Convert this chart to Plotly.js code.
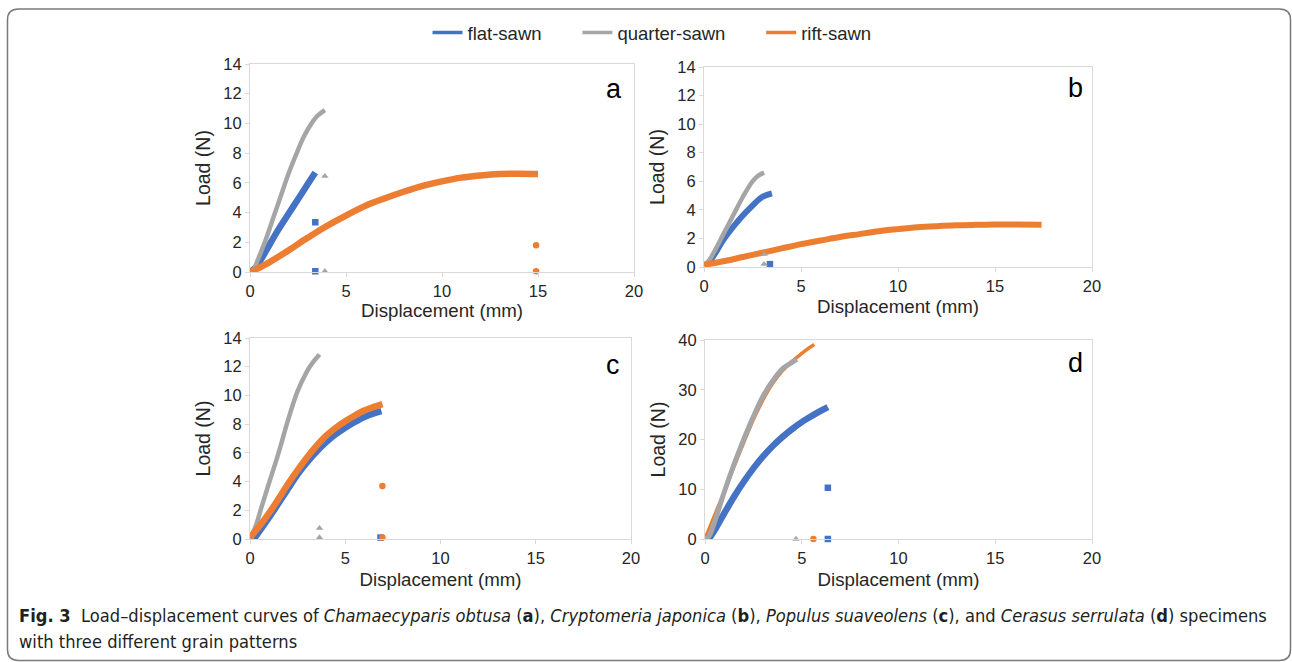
<!DOCTYPE html>
<html>
<head>
<meta charset="utf-8">
<script src="https://cdn.plot.ly/plotly-3.0.1.min.js"></script>
<style>
html,body{margin:0;padding:0;background:#fff;}
#chart{width:1292px;height:662px;}
</style>
</head>
<body>
<div id="chart"></div>
<script>
// ---------- DATA ----------
const seriesNames = ["flat-sawn", "quarter-sawn", "rift-sawn"];
const panelLabels = ["a", "b", "c", "d"];
const xTickVals = [0, 5, 10, 15, 20];

// Panel a (Chamaecyparis obtusa)
const aFlatX = [0, 0.3, 0.6, 1.0, 1.5, 2.0, 2.5, 3.0, 3.4];
const aFlatY = [0, 0.3, 0.9, 1.8, 2.9, 3.9, 4.9, 5.9, 6.7];
const aQuarterX = [0, 0.2, 0.4, 0.8, 1.2, 1.6, 2.0, 2.4, 2.8, 3.2, 3.5, 3.9];
const aQuarterY = [0, 0.2, 0.8, 2.1, 3.6, 5.1, 6.6, 7.9, 9.1, 10.0, 10.5, 10.9];
const aRiftX = [0, 0.5, 1, 2, 3, 4, 5, 6, 7, 8, 9, 10, 11, 12, 13, 14, 15];
const aRiftY = [0, 0.3, 0.65, 1.45, 2.3, 3.1, 3.8, 4.45, 4.95, 5.4, 5.8, 6.1, 6.35, 6.5, 6.6, 6.62, 6.6];
const aFlatEndX = [3.4, 3.4];     const aFlatEndY = [3.35, 0.05];
const aQuarterEndX = [3.9, 3.9];  const aQuarterEndY = [6.45, 0.05];
const aRiftEndX = [14.9, 14.9];   const aRiftEndY = [1.8, 0.05];

// Panel b (Cryptomeria japonica)
const bFlatX = [0.2, 0.5, 1.0, 1.5, 2.0, 2.5, 3.0, 3.5];
const bFlatY = [0.2, 0.8, 1.9, 2.8, 3.6, 4.3, 4.9, 5.15];
const bQuarterX = [0, 0.2, 0.5, 1.0, 1.5, 2.0, 2.5, 2.8, 3.1];
const bQuarterY = [0.2, 0.35, 1.0, 2.3, 3.6, 4.9, 6.0, 6.4, 6.6];
const bRiftX = [0, 1, 2, 3, 4, 5, 6, 7, 8, 9, 10, 11, 12, 13, 14, 15, 16, 17.4];
const bRiftY = [0.15, 0.4, 0.7, 1.0, 1.3, 1.6, 1.85, 2.1, 2.3, 2.5, 2.65, 2.78, 2.86, 2.92, 2.95, 2.97, 2.97, 2.95];
const bFlatEndX = [3.4];          const bFlatEndY = [0.2];
const bQuarterEndX = [3.1, 3.1];  const bQuarterEndY = [0.9, 0.2];
const bRiftEndX = [];             const bRiftEndY = [];

// Panel c (Populus suaveolens)
const cFlatX = [0.2, 0.5, 1, 1.5, 2, 2.5, 3, 3.5, 4, 4.5, 5, 5.5, 6, 6.5, 6.9];
const cFlatY = [0, 0.55, 1.5, 2.5, 3.5, 4.5, 5.35, 6.1, 6.75, 7.3, 7.75, 8.15, 8.5, 8.75, 8.9];
const cQuarterX = [0, 0.3, 0.6, 1.0, 1.5, 2.0, 2.5, 3.0, 3.3, 3.65];
const cQuarterY = [0, 0.9, 2.2, 3.9, 6.0, 8.3, 10.3, 11.7, 12.3, 12.85];
const cRiftX = [0, 0.5, 1, 1.5, 2, 2.5, 3, 3.5, 4, 4.5, 5, 5.5, 6, 6.5, 6.95];
const cRiftY = [0.1, 0.9, 1.8, 2.8, 3.85, 4.8, 5.7, 6.5, 7.2, 7.75, 8.2, 8.6, 8.95, 9.2, 9.4];
const cFlatEndX = [6.85];         const cFlatEndY = [0.1];
const cQuarterEndX = [3.65, 3.65];const cQuarterEndY = [0.75, 0.1];
const cRiftEndX = [6.95, 6.95];   const cRiftEndY = [3.7, 0.1];

// Panel d (Cerasus serrulata)
const dFlatX = [0.2, 0.5, 1, 1.5, 2, 2.5, 3, 3.5, 4, 4.5, 5, 5.5, 6, 6.35];
const dFlatY = [0, 1.8, 5.2, 8.5, 11.5, 14.2, 16.6, 18.7, 20.5, 22.1, 23.5, 24.7, 25.8, 26.5];
const dQuarterX = [0, 0.2, 0.5, 1, 1.5, 2, 2.5, 3, 3.5, 4, 4.5, 4.75];
const dQuarterY = [0, 0.5, 3.5, 9.5, 15, 20, 24.6, 28.7, 31.8, 34.2, 35.5, 36.1];
const dRiftX = [0, 0.5, 1, 1.5, 2, 2.5, 3, 3.5, 4, 4.5, 5, 5.3, 5.65];
const dRiftY = [0, 4.8, 9.5, 14.6, 19.4, 24, 28, 31.3, 33.8, 35.7, 37.3, 38.2, 39.1];
const dFlatEndX = [6.35, 6.35];   const dFlatEndY = [10.3, 0];
const dQuarterEndX = [4.7];       const dQuarterEndY = [0];
const dRiftEndX = [5.6];          const dRiftEndY = [0];

const captionLine1 = "<b>Fig. 3</b>  Load–displacement curves of <i>Chamaecyparis obtusa</i> (<b>a</b>), <i>Cryptomeria japonica</i> (<b>b</b>), <i>Populus suaveolens</i> (<b>c</b>), and <i>Cerasus serrulata</i> (<b>d</b>) specimens";
const captionLine2 = "with three different grain patterns";

// ---------- STYLE ----------
const colors = ["#4472C4", "#A5A5A5", "#ED7D31"];
const symbols = ["square", "triangle-up", "circle"];
const W = 1292, H = 662;
const txt = "#262626";
const pad = "\u00A0\u00A0\u00A0\u00A0\u00A0\u00A0";

const panels = [
  {xa:"x",  ya:"y",  curves:[[aFlatX,aFlatY],[aQuarterX,aQuarterY],[aRiftX,aRiftY]],
   ends:[[aFlatEndX,aFlatEndY],[aQuarterEndX,aQuarterEndY],[aRiftEndX,aRiftEndY]], widths:[6.5,4.5,6.5], order:[0,1,2],
   px:[250,634], py:[64,272], ymax:14, dy:2, lab:[614,89], xs:3},
  {xa:"x2", ya:"y2", curves:[[bFlatX,bFlatY],[bQuarterX,bQuarterY],[bRiftX,bRiftY]],
   ends:[[bFlatEndX,bFlatEndY],[bQuarterEndX,bQuarterEndY],[bRiftEndX,bRiftEndY]], widths:[6,4.5,6], order:[0,1,2],
   px:[704,1092], py:[67,267], ymax:14, dy:2, lab:[1075,88], xs:6},
  {xa:"x3", ya:"y3", curves:[[cFlatX,cFlatY],[cQuarterX,cQuarterY],[cRiftX,cRiftY]],
   ends:[[cFlatEndX,cFlatEndY],[cQuarterEndX,cQuarterEndY],[cRiftEndX,cRiftEndY]], widths:[6.5,4.5,6.5], order:[0,1,2],
   px:[250,631], py:[338,539], ymax:14, dy:2, lab:[613,365], xs:7},
  {xa:"x4", ya:"y4", curves:[[dFlatX,dFlatY],[dQuarterX,dQuarterY],[dRiftX,dRiftY]],
   ends:[[dFlatEndX,dFlatEndY],[dQuarterEndX,dQuarterEndY],[dRiftEndX,dRiftEndY]], widths:[6.5,5,3.5], order:[0,2,1],
   px:[705,1092], py:[340,539], ymax:40, dy:10, lab:[1075,363], xs:7}
];

const traces = [];
const layout = {
  width: W, height: H,
  margin: {l:0, r:0, t:0, b:0},
  paper_bgcolor: "#fff", plot_bgcolor: "rgba(0,0,0,0)",
  font: {family: "Liberation Sans, Arial, sans-serif", color: txt},
  showlegend: true,
  legend: {orientation: "h", x: 652/W, xanchor: "center", y: 1 - 33/H, yanchor: "middle",
           font: {size: 18.5, color: txt}, tracegroupgap: 0, bgcolor: "rgba(0,0,0,0)"},
  annotations: [], shapes: []
};

// legend entries
seriesNames.forEach((n, i) => {
  traces.push({x:[null], y:[null], type:"scatter", mode:"lines", name: i < 2 ? n + pad : n,
               line:{color:colors[i], width:3.5}, showlegend:true, hoverinfo:"skip"});
});

panels.forEach((p, k) => {
  const idx = k + 1;
  const sfx = idx === 1 ? "" : String(idx);
  p.order.forEach(s => {
    traces.push({x:p.curves[s][0], y:p.curves[s][1], xaxis:p.xa, yaxis:p.ya, type:"scatter",
      mode:"lines", line:{color:colors[s], width:p.widths[s], shape:"spline", smoothing:1},
      showlegend:false, name:seriesNames[s], cliponaxis:false});
  });
  [0,1,2].forEach(s => {
    if (p.ends[s][0].length) traces.push({x:p.ends[s][0], y:p.ends[s][1], xaxis:p.xa, yaxis:p.ya,
      type:"scatter", mode:"markers", marker:{color:colors[s], symbol:symbols[s], size:6.5},
      showlegend:false, name:seriesNames[s], cliponaxis:false});
  });
  const xd = [p.px[0]/W, p.px[1]/W];
  const yd = [1 - p.py[1]/H, 1 - p.py[0]/H];
  const common = {showgrid:false, zeroline:false, showline:true, mirror:true, linecolor:"#d9d9d9", linewidth:1,
                  ticks:"outside", ticklen:4, tickcolor:"#d9d9d9", tickwidth:1,
                  tickfont:{size:16.5, color:txt}, fixedrange:true};
  layout["xaxis"+sfx] = Object.assign({}, common, {domain:xd, anchor:"y"+sfx, range:[0,20],
      tickvals:xTickVals, title:{text:"Displacement (mm)", font:{size:18.7, color:txt}, standoff:p.xs}});
  layout["yaxis"+sfx] = Object.assign({}, common, {domain:yd, anchor:"x"+sfx, range:[0,p.ymax],
      dtick:p.dy, tick0:0, title:{text:"Load (N)", font:{size:19.5, color:txt}, standoff:7}});
  // inner half of crossing ticks
  layout["xaxis"+(idx+4)] = {overlaying:"x"+sfx, anchor:"y"+sfx, side:"bottom", range:[0,20], tickvals:xTickVals,
      ticks:"inside", ticklen:4, tickcolor:"#d9d9d9", showticklabels:false, showline:false, showgrid:false, zeroline:false, fixedrange:true};
  layout["yaxis"+(idx+4)] = {overlaying:"y"+sfx, anchor:"x"+sfx, side:"left", range:[0,p.ymax], dtick:p.dy, tick0:0,
      ticks:"inside", ticklen:4, tickcolor:"#d9d9d9", showticklabels:false, showline:false, showgrid:false, zeroline:false, fixedrange:true};
  layout.annotations.push({text:panelLabels[k], xref:"paper", yref:"paper",
      x:p.lab[0]/W, y:1 - p.lab[1]/H, xanchor:"center", yanchor:"middle", showarrow:false,
      font:{size:27, color:"#000"}});
});

// caption (two lines)
const capFont = {family:"Liberation Sans Narrow, DejaVu Sans Condensed, sans-serif", size:18.15, color:"#231f20"};
layout.annotations.push({text:captionLine1, xref:"paper", yref:"paper", x:17/W, y:1 - 615/H,
  xanchor:"left", yanchor:"middle", align:"left", showarrow:false, font:capFont});
layout.annotations.push({text:captionLine2, xref:"paper", yref:"paper", x:17/W, y:1 - 641/H,
  xanchor:"left", yanchor:"middle", align:"left", showarrow:false, font:capFont});

// rounded frame
(function(){
  const x0 = 7.5, x1 = 1290.5, y0 = 9, y1 = 660.5, r = 11;
  const X = v => (v / W).toFixed(5), Y = v => (1 - v / H).toFixed(5);
  const path = `M ${X(x0+r)} ${Y(y0)} L ${X(x1-r)} ${Y(y0)} Q ${X(x1)} ${Y(y0)} ${X(x1)} ${Y(y0+r)} ` +
               `L ${X(x1)} ${Y(y1-r)} Q ${X(x1)} ${Y(y1)} ${X(x1-r)} ${Y(y1)} ` +
               `L ${X(x0+r)} ${Y(y1)} Q ${X(x0)} ${Y(y1)} ${X(x0)} ${Y(y1-r)} ` +
               `L ${X(x0)} ${Y(y0+r)} Q ${X(x0)} ${Y(y0)} ${X(x0+r)} ${Y(y0)} Z`;
  layout.shapes.push({type:"path", xref:"paper", yref:"paper", path:path, line:{color:"#7a7a7a", width:1.5}, layer:"below"});
})();

Plotly.newPlot("chart", traces, layout, {staticPlot:true, displayModeBar:false});
</script>
</body>
</html>
